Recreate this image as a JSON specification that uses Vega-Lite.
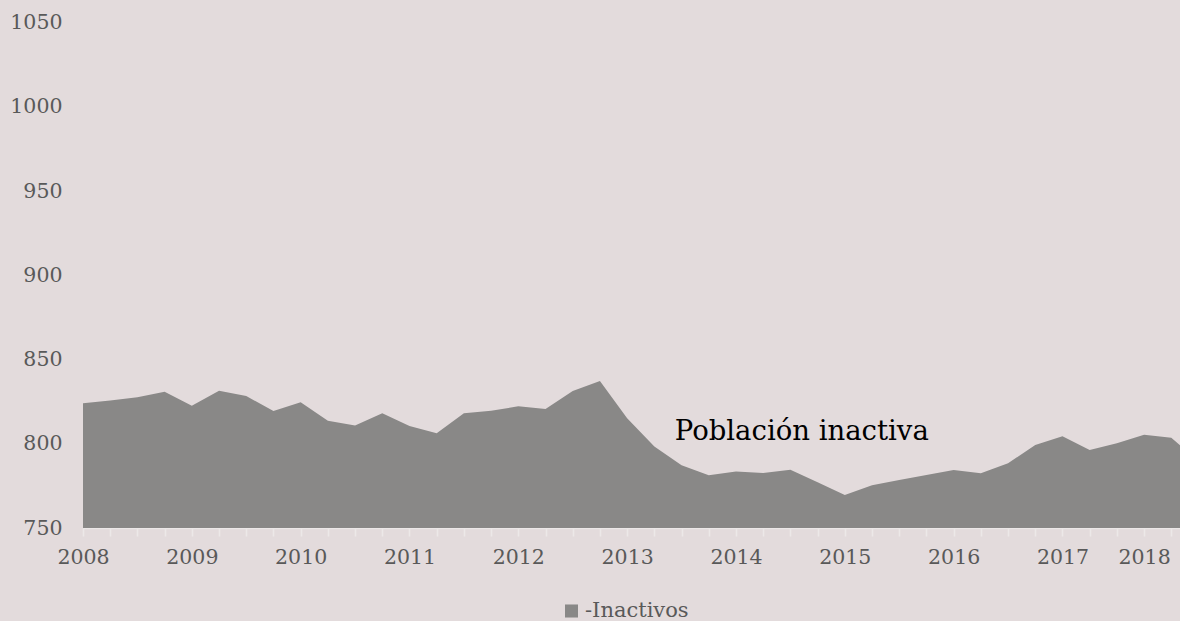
{
  "$schema": "https://vega.github.io/schema/vega-lite/v6.json",
  "autosize": {"type": "none"},
  "padding": {"left": 83, "top": 22.5, "right": 0, "bottom": 93},
  "width": 1097,
  "height": 505.5,
  "background": "#e3dbdc",
  "config": {
    "view": {"stroke": null},
    "font": "DejaVu Serif"
  },
  "resolve": {"axis": {"x": "independent"}},
  "layer": [
    {
      "data": {
        "values": [
          {"t": 0, "v": 824.0, "serie": "-Inactivos"},
          {"t": 1, "v": 825.6, "serie": "-Inactivos"},
          {"t": 2, "v": 827.6, "serie": "-Inactivos"},
          {"t": 3, "v": 830.9, "serie": "-Inactivos"},
          {"t": 4, "v": 822.6, "serie": "-Inactivos"},
          {"t": 5, "v": 831.5, "serie": "-Inactivos"},
          {"t": 6, "v": 828.3, "serie": "-Inactivos"},
          {"t": 7, "v": 819.4, "serie": "-Inactivos"},
          {"t": 8, "v": 824.6, "serie": "-Inactivos"},
          {"t": 9, "v": 813.7, "serie": "-Inactivos"},
          {"t": 10, "v": 810.9, "serie": "-Inactivos"},
          {"t": 11, "v": 818.1, "serie": "-Inactivos"},
          {"t": 12, "v": 810.5, "serie": "-Inactivos"},
          {"t": 13, "v": 806.2, "serie": "-Inactivos"},
          {"t": 14, "v": 818.1, "serie": "-Inactivos"},
          {"t": 15, "v": 819.6, "serie": "-Inactivos"},
          {"t": 16, "v": 822.2, "serie": "-Inactivos"},
          {"t": 17, "v": 820.6, "serie": "-Inactivos"},
          {"t": 18, "v": 831.3, "serie": "-Inactivos"},
          {"t": 19, "v": 837.2, "serie": "-Inactivos"},
          {"t": 20, "v": 815.1, "serie": "-Inactivos"},
          {"t": 21, "v": 798.3, "serie": "-Inactivos"},
          {"t": 22, "v": 787.2, "serie": "-Inactivos"},
          {"t": 23, "v": 781.3, "serie": "-Inactivos"},
          {"t": 24, "v": 783.6, "serie": "-Inactivos"},
          {"t": 25, "v": 782.6, "serie": "-Inactivos"},
          {"t": 26, "v": 784.6, "serie": "-Inactivos"},
          {"t": 27, "v": 777.1, "serie": "-Inactivos"},
          {"t": 28, "v": 769.6, "serie": "-Inactivos"},
          {"t": 29, "v": 775.3, "serie": "-Inactivos"},
          {"t": 30, "v": 778.5, "serie": "-Inactivos"},
          {"t": 31, "v": 781.5, "serie": "-Inactivos"},
          {"t": 32, "v": 784.4, "serie": "-Inactivos"},
          {"t": 33, "v": 782.5, "serie": "-Inactivos"},
          {"t": 34, "v": 788.4, "serie": "-Inactivos"},
          {"t": 35, "v": 799.3, "serie": "-Inactivos"},
          {"t": 36, "v": 804.4, "serie": "-Inactivos"},
          {"t": 37, "v": 796.3, "serie": "-Inactivos"},
          {"t": 38, "v": 800.3, "serie": "-Inactivos"},
          {"t": 39, "v": 805.4, "serie": "-Inactivos"},
          {"t": 40, "v": 803.6, "serie": "-Inactivos"},
          {"t": 41, "v": 789.5, "serie": "-Inactivos"}
        ]
      },
      "mark": {"type": "area", "clip": true, "interpolate": "linear"},
      "encoding": {
        "x": {
          "field": "t",
          "type": "quantitative",
          "scale": {"domain": [0, 40.32], "nice": false, "zero": false},
          "axis": {
            "orient": "bottom",
            "title": null,
            "grid": false,
            "labels": false,
            "values": [0,1,2,3,4,5,6,7,8,9,10,11,12,13,14,15,16,17,18,19,20,21,22,23,24,25,26,27,28,29,30,31,32,33,34,35,36,37,38,39,40],
            "domainColor": "#ece8e8",
            "domainWidth": 1.5,
            "tickColor": "#ece8e8",
            "tickSize": 8,
            "tickWidth": 1.5
          }
        },
        "y": {
          "field": "v",
          "type": "quantitative",
          "scale": {"domain": [750, 1050], "nice": false, "zero": false},
          "axis": {
            "title": null,
            "grid": false,
            "domain": false,
            "ticks": false,
            "format": "d",
            "values": [750, 800, 850, 900, 950, 1000, 1050],
            "labelFont": "DejaVu Serif",
            "labelFontSize": 20.5,
            "labelColor": "#595959",
            "labelPadding": 21
          }
        },
        "color": {
          "field": "serie",
          "type": "nominal",
          "scale": {"domain": ["-Inactivos"], "range": ["#898887"]},
          "legend": {
            "title": null,
            "orient": "none",
            "legendX": 478,
            "legendY": 578,
            "symbolType": "square",
            "symbolSize": 170,
            "symbolStrokeWidth": 0,
            "symbolOpacity": 1,
            "labelFont": "DejaVu Serif",
            "labelFontSize": 21,
            "labelColor": "#595959",
            "labelOffset": 3
          }
        },
        "opacity": {"value": 1}
      }
    },
    {
      "data": {"values": [{"t": 21.75, "v": 806.8, "label": "Población inactiva"}]},
      "mark": {"type": "text", "align": "left", "baseline": "middle", "font": "DejaVu Serif", "fontSize": 27.5, "color": "#000000"},
      "encoding": {
        "x": {
          "field": "t",
          "type": "quantitative",
          "axis": {
            "orient": "bottom",
            "title": null,
            "grid": false,
            "domain": false,
            "ticks": false,
            "values": [0, 4, 8, 12, 16, 20, 24, 28, 32, 36, 39],
            "labelExpr": "datum.value == 39 ? '2018' : '' + (2008 + datum.value / 4)",
            "labelFont": "DejaVu Serif",
            "labelFontSize": 20.5,
            "labelColor": "#595959",
            "labelPadding": 19,
            "labelOverlap": false,
            "labelFlush": false
          }
        },
        "y": {"field": "v", "type": "quantitative"},
        "text": {"field": "label"}
      }
    }
  ]
}
